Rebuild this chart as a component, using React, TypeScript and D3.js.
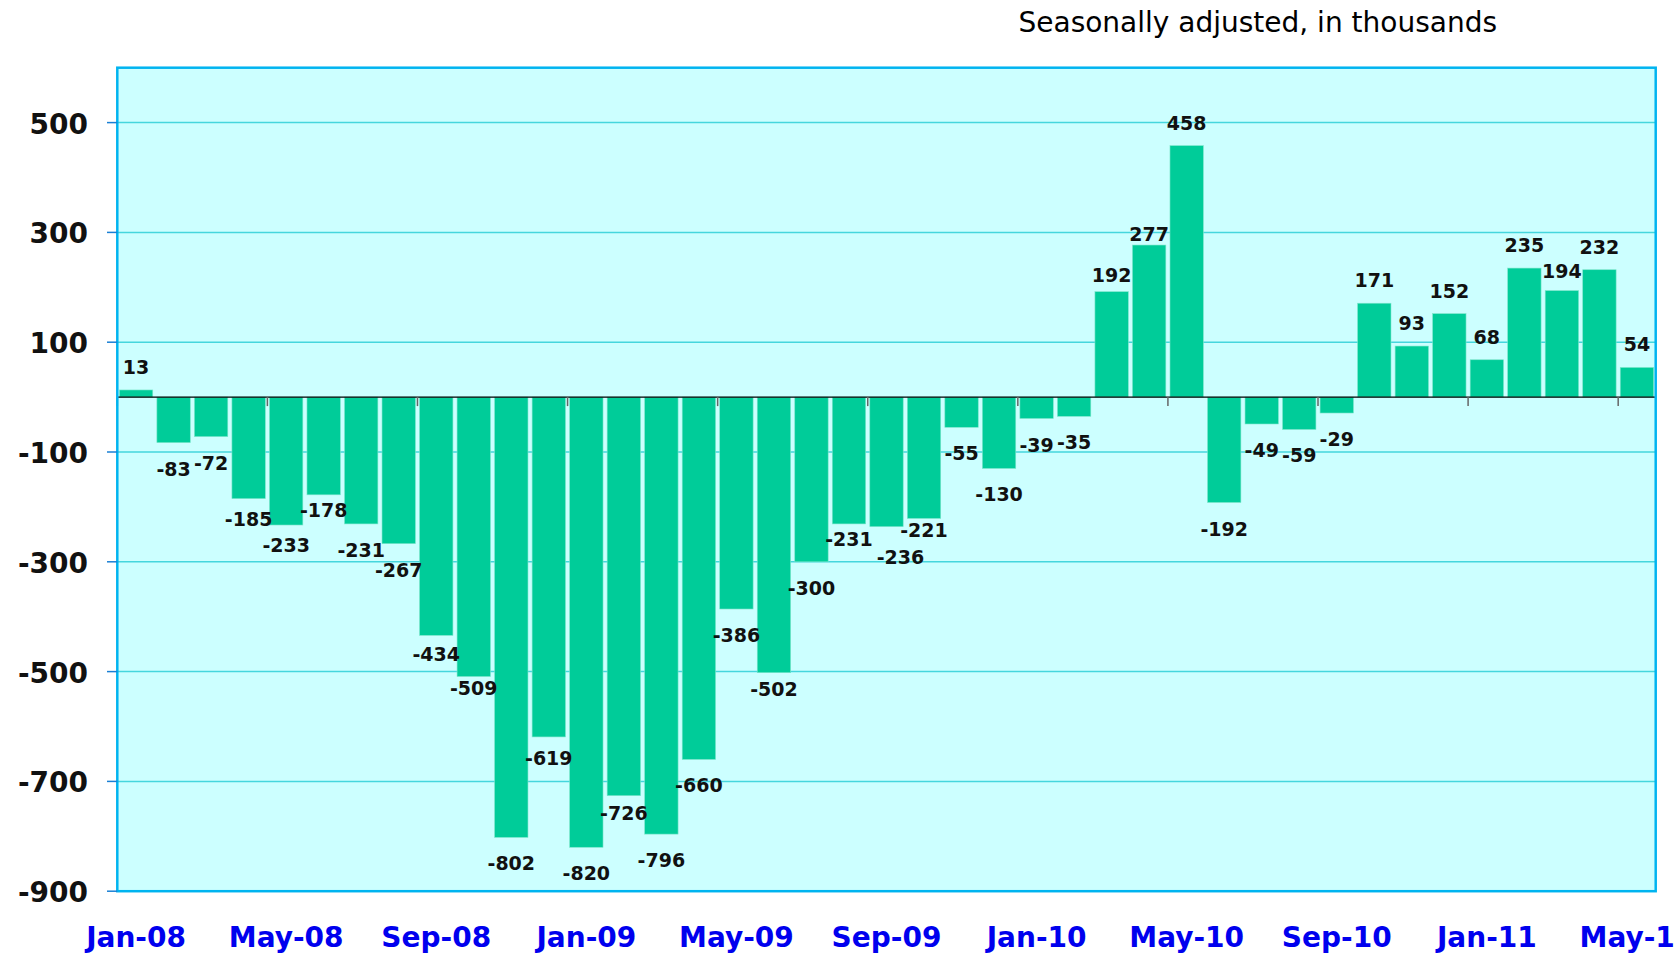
import * as d3 from "d3";

// monthly change, seasonally adjusted (thousands), Jan-08 .. May-11
const months = d3
  .timeMonths(new Date(2008, 0, 1), new Date(2011, 5, 1))
  .map((d) => d3.timeFormat("%b-%y")(d));

const values = [
  13, -83, -72, -185, -233, -178, -231, -267, -434, -509, -802, -619, -820,
  -726, -796, -660, -386, -502, -300, -231, -236, -221, -55, -130, -39, -35,
  192, 277, 458, -192, -49, -59, -29, 171, 93, 152, 68, 235, 194, 232, 54,
];

const yTicks = [500, 300, 100, -100, -300, -500, -700, -900];
const xLabels = [
  "Jan-08", "May-08", "Sep-08", "Jan-09", "May-09", "Sep-09",
  "Jan-10", "May-10", "Sep-10", "Jan-11", "May-11",
];

const title = "Seasonally adjusted, in thousands";

// hand-moved data labels in the original (bar index -> [dx, dy])
const labelNudge: Record<number, [number, number]> = {
  3: [0, -6],
  4: [0, -6],
  5: [0, -11],
  8: [0, -7],
  9: [0, -15],
  11: [0, -5],
  13: [0, -9],
  17: [0, -10],
  19: [0, -11],
  20: [14, 4],
  21: [0, -14],
  26: [0, 6],
  27: [0, 12],
  38: [0, 3],
};

const W = 1674;
const H = 953;
const left = 117.3;
const right = 1655.7;
const top = 67.7;
const bottom = 891.2;

function App() {
  const x = d3
    .scaleBand<string>()
    .domain(months)
    .range([left, right])
    .paddingInner(0.11)
    .paddingOuter(0.055);
  const y = d3.scaleLinear().domain([-900, 600]).range([bottom, top]);
  const step = x.step();
  const y0 = y(0);
  const boundaries = d3.range(0, months.length, 4);

  const font = "'DejaVu Sans', sans-serif";

  return (
    <svg
      width={W}
      height={H}
      style={{ position: "absolute", left: 0, top: 0, background: "#fff" }}
    >
      <text
        x={1497}
        y={32}
        textAnchor="end"
        fontFamily={font}
        fontSize={28}
        fill="#000"
      >
        {title}
      </text>

      <rect
        x={left}
        y={top}
        width={right - left}
        height={bottom - top}
        fill="#ccffff"
      />

      {yTicks
        .filter((t) => t !== -900)
        .map((t) => (
          <line
            key={"g" + t}
            x1={left}
            x2={right}
            y1={y(t)}
            y2={y(t)}
            stroke="#45d6dd"
            strokeWidth={1.5}
          />
        ))}

      {values.map((v, i) => (
        <rect
          key={"b" + i}
          x={x(months[i])}
          y={Math.min(y(v), y0)}
          width={x.bandwidth()}
          height={Math.abs(y(v) - y0)}
          fill="#00cc99"
          stroke="#7fe6cc"
          strokeWidth={0.6}
        />
      ))}

      <line x1={left} x2={right} y1={y0} y2={y0} stroke="#000" strokeWidth={1.3} />
      {boundaries.map((i) => (
        <line
          key={"xt" + i}
          x1={left + i * step}
          x2={left + i * step}
          y1={y0}
          y2={y0 + 9}
          stroke="#666"
          strokeWidth={1.5}
        />
      ))}

      <rect
        x={left}
        y={top}
        width={right - left}
        height={bottom - top}
        fill="none"
        stroke="#00b4f0"
        strokeWidth={2.5}
      />

      {yTicks.map((t) => (
        <g key={"yt" + t}>
          <line
            x1={107}
            x2={left}
            y1={y(t)}
            y2={y(t)}
            stroke="#1a80d4"
            strokeWidth={1.5}
          />
          <text
            x={88}
            y={y(t) + 11}
            textAnchor="end"
            fontFamily={font}
            fontWeight="bold"
            fontSize={28}
            fill="#111"
          >
            {t}
          </text>
        </g>
      ))}

      {values.map((v, i) => {
        const [dx, dy] = labelNudge[i] || [0, 0];
        return (
          <text
            key={"l" + i}
            x={(x(months[i]) as number) + x.bandwidth() / 2 + dx}
            y={(v >= 0 ? y(v) - 16 : y(v) + 33) + dy}
            textAnchor="middle"
            fontFamily={font}
            fontWeight="bold"
            fontSize={19}
            fill="#111"
          >
            {v}
          </text>
        );
      })}

      {xLabels.map((lab, k) => (
        <text
          key={"xl" + lab}
          x={(x(months[k * 4]) as number) + x.bandwidth() / 2}
          y={947}
          textAnchor="middle"
          fontFamily={font}
          fontWeight="bold"
          fontSize={28}
          fill="#0000ee"
        >
          {lab}
        </text>
      ))}
    </svg>
  );
}

export default App;
